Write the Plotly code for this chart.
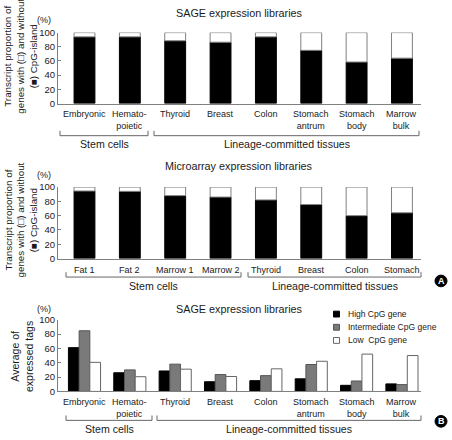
import plotly.graph_objects as go

# ---------------- data ----------------
sage_cats = ["Embryonic", "Hemato-<br>poietic", "Thyroid", "Breast", "Colon",
             "Stomach<br>antrum", "Stomach<br>body", "Marrow<br>bulk"]
sage_without_cpg = [94, 94, 88.5, 86.5, 94, 75, 58.5, 64]

micro_cats = ["Fat 1", "Fat 2", "Marrow 1", "Marrow 2", "Thyroid", "Breast", "Colon", "Stomach"]
micro_without_cpg = [94.5, 94, 88, 86, 82, 75.5, 60, 64]

high_cpg = [61, 26, 28.5, 13.5, 15, 17.5, 8.5, 10.5]
inter_cpg = [84.5, 30, 38, 23.5, 22, 37.5, 14.5, 9.5]
low_cpg = [40.5, 20.5, 31, 20.8, 31.5, 42, 52, 50]

y_ticks = [0, 20, 40, 60, 80, 100]

# ---------------- helpers ----------------
W, H = 452, 440
FONT = "Liberation Sans, Arial, sans-serif"
TXT = "#1a1a1a"
AXC = "#808080"


def px(x):
    return x / W


def py(y):
    return 1 - y / H


fig = go.Figure()

BW = 0.46
fig.add_trace(go.Bar(x=sage_cats, y=sage_without_cpg, offset=-BW / 2, width=BW,
                     marker=dict(color="black", line=dict(color="black", width=1)),
                     xaxis="x", yaxis="y", showlegend=False))
fig.add_trace(go.Bar(x=sage_cats, y=[100 - v for v in sage_without_cpg], base=sage_without_cpg,
                     offset=-BW / 2, width=BW,
                     marker=dict(color="white", line=dict(color=AXC, width=1)),
                     xaxis="x", yaxis="y", showlegend=False))
fig.add_trace(go.Bar(x=micro_cats, y=micro_without_cpg, offset=-BW / 2, width=BW,
                     marker=dict(color="black", line=dict(color="black", width=1)),
                     xaxis="x2", yaxis="y2", showlegend=False))
fig.add_trace(go.Bar(x=micro_cats, y=[100 - v for v in micro_without_cpg], base=micro_without_cpg,
                     offset=-BW / 2, width=BW,
                     marker=dict(color="white", line=dict(color=AXC, width=1)),
                     xaxis="x2", yaxis="y2", showlegend=False))
GW = 0.236
for vals, col, lc, off in [(high_cpg, "black", "black", -1.5 * GW),
                           (inter_cpg, "#7a7a7a", "#555555", -0.5 * GW),
                           (low_cpg, "white", "#666666", 0.5 * GW)]:
    fig.add_trace(go.Bar(x=sage_cats, y=vals, offset=off, width=GW,
                         marker=dict(color=col, line=dict(color=lc, width=1)),
                         xaxis="x3", yaxis="y3", showlegend=False))

xdom = [px(58), px(421)]
xr = [-0.584, 7.42]
xcommon = dict(domain=xdom, range=xr, showline=True, linecolor=AXC, linewidth=1,
               ticks="", showticklabels=False,
               showgrid=False, zeroline=False, fixedrange=True, type="category")
ycommon = dict(range=[0, 100], tickvals=y_ticks, ticks="inside", ticklen=3, tickcolor=AXC,
               showline=True, linecolor=AXC, linewidth=1, showgrid=False, zeroline=False,
               tickfont=dict(family=FONT, size=9.5, color=TXT), fixedrange=True)

fig.update_layout(
    width=W, height=H, autosize=False,
    margin=dict(l=0, r=0, t=0, b=0),
    paper_bgcolor="white", plot_bgcolor="white",
    barmode="overlay",
    xaxis=dict(anchor="y", **xcommon),
    yaxis=dict(anchor="x", domain=[py(100), py(27.3)], **ycommon),
    xaxis2=dict(anchor="y2", **xcommon),
    yaxis2=dict(anchor="x2", domain=[py(259), py(185.7)], **ycommon),
    xaxis3=dict(anchor="y3", **xcommon),
    yaxis3=dict(anchor="x3", domain=[py(395.3), py(321.7)], **ycommon),
)

ann = []


def text(x, y, s, size=11, angle=0, xanchor="center", color=TXT):
    ann.append(dict(x=px(x), y=py(y), xref="paper", yref="paper", text=s,
                    showarrow=False, textangle=angle, xanchor=xanchor, yanchor="middle",
                    font=dict(family=FONT, size=size, color=color)))


# category labels (placed on the category axes)
for cats, xref, ytop in [(sage_cats, "x", 104), (micro_cats, "x2", 264), (sage_cats, "x3", 399)]:
    for c in cats:
        ann.append(dict(x=c, y=py(ytop), xref=xref, yref="paper", text=c, showarrow=False,
                        xanchor="center", yanchor="top",
                        font=dict(family=FONT, size=9, color=TXT)))

# titles
text(239, 7, "SAGE expression libraries", 10.8)
text(239, 164, "Microarray expression libraries", 10.8)
text(239, 311, "SAGE expression libraries", 10.8)
# (%)
for yy in (14, 173, 311):
    text(44, yy, "(%)", 9)
# y titles
text(20, 52, "Transcript proportion of<br>genes with (□) and without<br>(■) CpG-island", 9.8, angle=-90)
text(20, 220, "Transcript proportion of<br>genes with (□) and without<br>(■) CpG-island", 9.8, angle=-90)
text(22, 360, "Average of<br>expressed tags", 10.5, angle=-90)

shapes = []


def bracket(x1, x2, y, label, ly):
    shapes.append(dict(type="path", xref="paper", yref="paper",
                       path="M %f,%f L %f,%f L %f,%f L %f,%f" % (px(x1), py(y - 5), px(x1), py(y), px(x2), py(y), px(x2), py(y - 5)),
                       line=dict(color="#666666", width=1)))
    text((x1 + x2) / 2, ly, label, 10.6)


bracket(60, 148, 133, "Stem cells", 142)
bracket(154, 419, 133, "Lineage-committed tissues", 142)
bracket(66, 241, 278, "Stem cells", 287)
bracket(248, 421, 278, "Lineage-committed tissues", 287)
bracket(66, 152, 425, "Stem cells", 434)
bracket(157, 421, 425, "Lineage-committed tissues", 434)

for cx, cy, lab in [(441, 282, "A"), (441, 426, "B")]:
    shapes.append(dict(type="circle", xref="paper", yref="paper",
                       x0=px(cx - 6), x1=px(cx + 6), y0=py(cy + 6), y1=py(cy - 6),
                       fillcolor="black", line=dict(color="black", width=1)))
    ann.append(dict(x=px(cx), y=py(cy), xref="paper", yref="paper", text="<b>%s</b>" % lab,
                    showarrow=False, xanchor="center", yanchor="middle",
                    font=dict(family=FONT, size=9, color="white")))

for yy, col, lc, lab in [(316, "black", "black", "High CpG gene"),
                         (329.5, "#7a7a7a", "#555555", "Intermediate CpG gene"),
                         (343, "white", "#666666", "Low  CpG gene")]:
    shapes.append(dict(type="rect", xref="paper", yref="paper",
                       x0=px(333.5), x1=px(339.5), y0=py(yy + 3), y1=py(yy - 3),
                       fillcolor=col, line=dict(color=lc, width=1)))
    text(346, yy, lab, 8.5, xanchor="left")

fig.update_layout(annotations=ann, shapes=shapes)
fig.write_html("out.html", config={"displayModeBar": False},
               post_script="document.body.style.margin='0';document.body.style.overflow='hidden';")
